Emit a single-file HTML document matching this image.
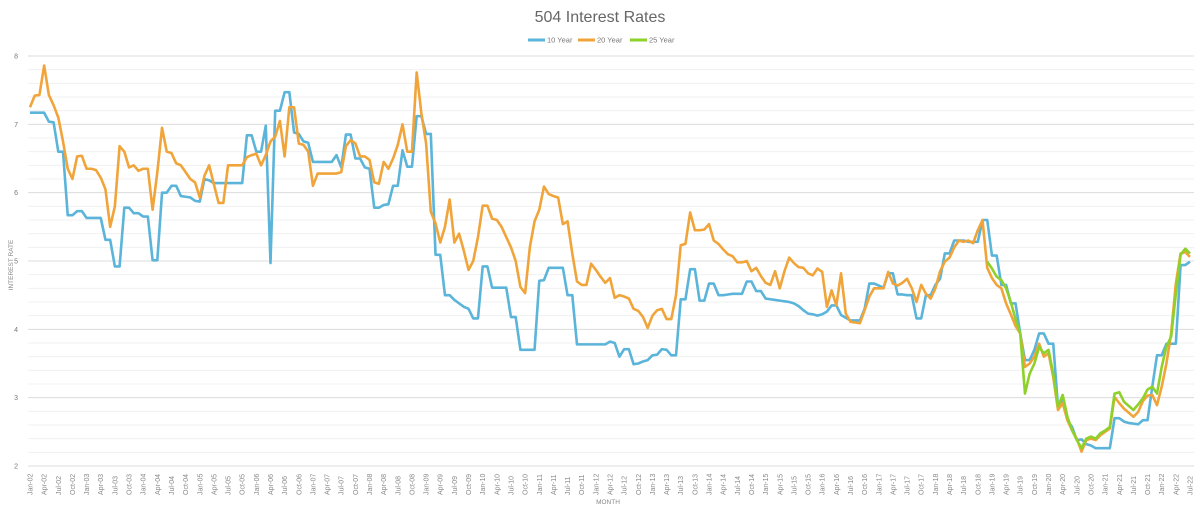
<!DOCTYPE html>
<html><head><meta charset="utf-8"><title>504 Interest Rates</title>
<style>
html,body{margin:0;padding:0;background:#fff;}
svg{display:block;font-family:"Liberation Sans",sans-serif;}
</style></head>
<body>
<svg id="chart" width="1200" height="515" viewBox="0 0 1200 515" xmlns="http://www.w3.org/2000/svg">
<text x="600" y="22" text-anchor="middle" font-size="16" fill="#666">504 Interest Rates</text>
<g font-size="7.5" fill="#777">
<g><line x1="528" y1="40" x2="545" y2="40" stroke="#5bb4d9" stroke-width="3"/><text x="547" y="42.5">10 Year</text></g>
<g><line x1="578" y1="40" x2="595" y2="40" stroke="#f0a43a" stroke-width="3"/><text x="597" y="42.5">20 Year</text></g>
<g><line x1="630" y1="40" x2="647" y2="40" stroke="#8ed12a" stroke-width="3"/><text x="649" y="42.5">25 Year</text></g>
</g>
<g id="grid"></g>
<g id="yticks" font-size="7" fill="#777"></g>
<g id="xticks" font-size="7" fill="#888"></g>
<text transform="translate(13,265) rotate(-90)" text-anchor="middle" font-size="6.5" fill="#888">INTEREST RATE</text>
<text x="608" y="504" text-anchor="middle" font-size="6.5" fill="#888">MONTH</text>
<g id="series"></g>
</svg>
<script>
const yTicks = [2,3,4,5,6,7,8];
const monthNames = ["Jan","Apr","Jul","Oct"];
const startYear = 2002;
const tenYear = [
7.17,7.17,7.17,7.17,7.04,7.03,6.6,6.6,5.67,5.67,5.73,5.73,
5.63,5.63,5.63,5.63,5.31,5.31,4.92,4.92,5.78,5.78,5.7,5.7,
5.65,5.65,5.01,5.01,6.0,6.0,6.1,6.1,5.95,5.94,5.93,5.88,
5.87,6.2,6.18,6.14,6.14,6.14,6.14,6.14,6.14,6.14,6.84,6.84,
6.6,6.6,6.98,4.97,7.2,7.2,7.47,7.47,6.88,6.86,6.75,6.73,
6.45,6.45,6.45,6.45,6.45,6.55,6.37,6.85,6.85,6.5,6.5,6.37,
6.35,5.78,5.78,5.82,5.83,6.1,6.1,6.62,6.38,6.38,7.12,7.12,
6.86,6.86,5.09,5.09,4.5,4.5,4.43,4.38,4.33,4.3,4.16,4.16,
4.92,4.92,4.61,4.61,4.61,4.61,4.18,4.18,3.7,3.7,3.7,3.7,
4.71,4.72,4.9,4.9,4.9,4.9,4.5,4.5,3.78,3.78,3.78,3.78,
3.78,3.78,3.78,3.82,3.8,3.6,3.71,3.71,3.49,3.5,3.53,3.55,
3.62,3.63,3.71,3.7,3.62,3.62,4.44,4.44,4.88,4.88,4.42,4.42,
4.67,4.67,4.5,4.5,4.51,4.52,4.52,4.52,4.7,4.7,4.56,4.56,
4.45,4.44,4.43,4.42,4.41,4.4,4.38,4.34,4.28,4.23,4.22,4.2,
4.22,4.26,4.35,4.35,4.21,4.17,4.13,4.13,4.13,4.3,4.67,4.67,
4.64,4.61,4.82,4.82,4.51,4.51,4.5,4.5,4.16,4.16,4.5,4.5,
4.65,4.74,5.11,5.11,5.3,5.3,5.3,5.28,5.28,5.28,5.6,5.6,
5.08,5.08,4.65,4.65,4.38,4.38,3.94,3.55,3.55,3.7,3.94,3.94,
3.79,3.79,2.87,2.96,2.67,2.57,2.38,2.39,2.32,2.3,2.26,2.26,
2.26,2.26,2.7,2.7,2.65,2.63,2.62,2.61,2.67,2.67,3.16,3.62,
3.62,3.79,3.79,3.79,4.94,4.94,4.99];
const twentyYear = [
7.25,7.42,7.43,7.86,7.43,7.28,7.1,6.75,6.35,6.2,6.53,6.54,
6.35,6.35,6.33,6.22,6.05,5.5,5.8,6.68,6.6,6.37,6.4,6.32,
6.35,6.35,5.75,6.3,6.95,6.6,6.58,6.43,6.4,6.3,6.2,6.15,
5.93,6.25,6.4,6.12,5.85,5.85,6.4,6.4,6.4,6.4,6.52,6.55,
6.57,6.4,6.55,6.75,6.82,7.05,6.53,7.25,7.25,6.72,6.7,6.6,
6.1,6.28,6.28,6.28,6.28,6.28,6.3,6.68,6.77,6.72,6.53,6.53,
6.48,6.15,6.13,6.45,6.35,6.5,6.7,7.0,6.6,6.6,7.76,7.16,
6.72,5.72,5.55,5.27,5.5,5.9,5.27,5.4,5.15,4.87,5.0,5.35,
5.81,5.81,5.62,5.6,5.5,5.35,5.2,5.0,4.62,4.53,5.2,5.58,
5.75,6.09,5.98,5.95,5.93,5.54,5.58,5.11,4.7,4.65,4.65,4.96,
4.87,4.77,4.68,4.75,4.46,4.5,4.48,4.45,4.3,4.27,4.18,4.02,
4.2,4.28,4.3,4.15,4.15,4.5,5.23,5.25,5.71,5.45,5.45,5.46,
5.54,5.3,5.25,5.17,5.1,5.07,4.98,4.98,5.0,4.85,4.9,4.78,
4.68,4.65,4.85,4.6,4.85,5.05,4.97,4.91,4.9,4.82,4.79,4.89,
4.84,4.33,4.57,4.35,4.82,4.23,4.11,4.1,4.09,4.28,4.48,4.6,
4.6,4.6,4.84,4.67,4.64,4.68,4.74,4.6,4.4,4.65,4.52,4.45,
4.6,4.85,4.99,5.05,5.2,5.3,5.28,5.3,5.26,5.45,5.6,4.9,
4.75,4.65,4.6,4.38,4.22,4.05,3.94,3.45,3.5,3.6,3.79,3.6,
3.65,3.3,2.82,2.92,2.67,2.52,2.4,2.21,2.38,2.4,2.38,2.45,
2.5,2.55,3.01,2.92,2.84,2.78,2.72,2.79,2.95,3.03,3.04,2.89,
3.16,3.5,3.94,4.67,5.11,5.13,5.06];
const twentyFiveStart = 203;
const twentyFiveYear = [
4.99,4.89,4.77,4.72,4.6,4.4,4.15,3.94,3.06,3.35,3.5,3.74,3.65,
3.7,3.35,2.87,3.04,2.72,2.52,2.38,2.26,2.4,2.43,2.4,2.48,
2.52,2.57,3.06,3.08,2.94,2.88,2.82,2.9,2.99,3.12,3.16,3.06,
3.45,3.75,3.89,4.52,5.09,5.18,5.11];

const NS = "http://www.w3.org/2000/svg";
const X0 = 30, X1 = 1190, Y8 = 56, Y2 = 466;
const nMonths = tenYear.length;
function xs(i){ return X0 + i * (X1 - X0) / (nMonths - 1); }
function ys(v){ return Y2 - (v - 2) * (Y2 - Y8) / 6; }
function mk(tag, attrs, parent){ const e = document.createElementNS(NS, tag); for (const k in attrs) e.setAttribute(k, attrs[k]); parent.appendChild(e); return e; }

const grid = document.getElementById('grid');
for (let v = 2; v <= 8.001; v += 0.2) {
  const major = Math.abs(v - Math.round(v)) < 0.01;
  const l = mk('line', {x1: 28, x2: 1194, y1: ys(v), y2: ys(v), stroke: major ? '#dcdcdc' : '#f0f0f0', 'stroke-width': 1}, grid);
  
  
}
const yt = document.getElementById('yticks');
yTicks.forEach(v => {
  const t = mk('text', {x: 18, y: ys(v) + 2.5, 'text-anchor': 'end'}, yt);
  t.textContent = v;
  
  
});
const xt = document.getElementById('xticks');
for (let i = 0; i < nMonths; i += 3) {
  const yr = startYear + Math.floor(i / 12);
  const lab = monthNames[(i % 12) / 3] + '-' + String(yr % 100).padStart(2, '0');
  const x = xs(i);
  const t = mk('text', {transform: 'translate(' + (x + 2.5) + ',495) rotate(-90)', 'text-anchor': 'start'}, xt);
  t.textContent = lab;
  
  
}
const sg = document.getElementById('series');
function draw(arr, offset, color, name){
  const pts = arr.map((v, i) => xs(i + offset).toFixed(2) + ',' + ys(v).toFixed(2)).join(' ');
  const p = mk('polyline', {points: pts, fill: 'none', stroke: color, 'stroke-width': 2.6, 'stroke-linejoin': 'round'}, sg);
  
  
}
draw(tenYear, 0, '#5bb4d9', 'line-10-year');
draw(twentyYear, 0, '#f0a43a', 'line-20-year');
draw(twentyFiveYear, twentyFiveStart, '#8ed12a', 'line-25-year');
</script>
</body></html>
